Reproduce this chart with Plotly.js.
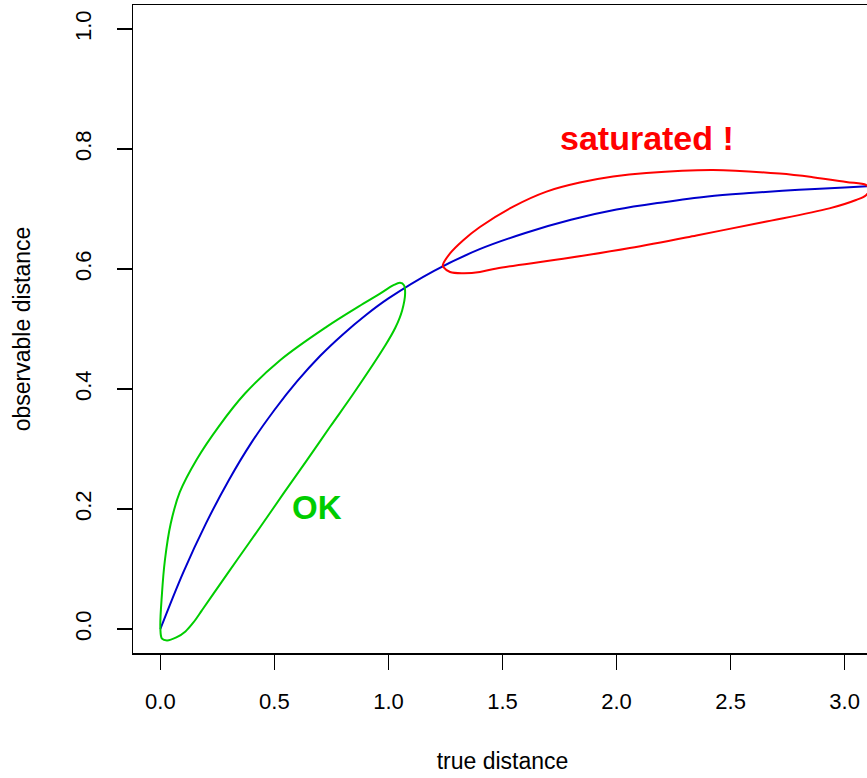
<!DOCTYPE html>
<html>
<head>
<meta charset="utf-8">
<script src="https://cdn.plot.ly/plotly-3.0.1.min.js"></script>
<style>
html, body { margin: 0; padding: 0; background: #ffffff; overflow: hidden; }
#chart { width: 880px; height: 778px; }
</style>
</head>
<body>
<div id="chart"></div>
<script>
// Expected curve (blue): true distance vs observable distance
const blueX = [0, 0.1, 0.2, 0.3, 0.4, 0.5, 0.6, 0.7, 0.8, 0.9, 1.0, 1.2, 1.4, 1.6, 1.8, 2.0, 2.2, 2.4, 2.6, 2.8, 3.0, 3.1];
const blueY = [0, 0.094, 0.176, 0.248, 0.311, 0.365, 0.413, 0.455, 0.491, 0.523, 0.551, 0.597, 0.633, 0.660, 0.682, 0.699, 0.711, 0.721, 0.727, 0.732, 0.736, 0.738];

// Green loop ("OK" region)
const greenX = [0.000, 0.007, 0.020, 0.045, 0.085, 0.160, 0.255, 0.370, 0.525, 0.730, 0.880, 0.963, 1.022, 1.051, 1.068, 1.073, 1.060, 1.030, 0.985, 0.846, 0.744, 0.642, 0.540, 0.438, 0.336, 0.233, 0.182, 0.145, 0.110, 0.070, 0.029, 0.007, 0.000];
const greenY = [0.001, 0.059, 0.115, 0.175, 0.228, 0.283, 0.337, 0.392, 0.448, 0.504, 0.540, 0.559, 0.573, 0.577, 0.573, 0.559, 0.531, 0.502, 0.472, 0.392, 0.337, 0.281, 0.226, 0.170, 0.115, 0.059, 0.031, 0.011, -0.004, -0.014, -0.019, -0.016, 0.001];

// Red loop ("saturated !" region)
const redX = [1.238, 1.270, 1.328, 1.401, 1.547, 1.693, 1.839, 1.985, 2.131, 2.423, 2.715, 2.860, 3.007, 3.094, 3.110, 3.094, 3.050, 2.933, 2.641, 2.350, 2.058, 1.766, 1.474, 1.401, 1.328, 1.270, 1.241, 1.238];
const redY = [0.606, 0.626, 0.648, 0.670, 0.704, 0.729, 0.744, 0.754, 0.760, 0.765, 0.759, 0.753, 0.745, 0.740, 0.733, 0.723, 0.715, 0.701, 0.678, 0.656, 0.635, 0.617, 0.601, 0.595, 0.593, 0.595, 0.603, 0.606];

const xTicks = [0, 0.5, 1.0, 1.5, 2.0, 2.5, 3.0];
const yTicks = [0, 0.2, 0.4, 0.6, 0.8, 1.0];

const labelOK = {text: 'OK', x: 0.687, y: 0.203};
const labelSat = {text: 'saturated !', x: 2.132, y: 0.818};

const FONT = 'Liberation Sans, Arial, Helvetica, sans-serif';

const traces = [
  {x: blueX, y: blueY, type: 'scatter', mode: 'lines',
   line: {color: '#0000CD', width: 2, shape: 'spline', smoothing: 1}, hoverinfo: 'skip'},
  {x: greenX, y: greenY, type: 'scatter', mode: 'lines',
   line: {color: '#00CD00', width: 2, shape: 'spline', smoothing: 1}, hoverinfo: 'skip'},
  {x: redX, y: redY, type: 'scatter', mode: 'lines',
   line: {color: '#FF0000', width: 2, shape: 'spline', smoothing: 1}, hoverinfo: 'skip'}
];

const axisCommon = {
  showgrid: false, zeroline: false,
  showline: true, mirror: true, linecolor: '#000000', linewidth: 1.5,
  ticks: 'outside', ticklen: 15, tickwidth: 1.5, tickcolor: '#000000',
  tickfont: {family: FONT, size: 22, color: '#000000'},
  tickformat: '.1f'
};

const layout = {
  width: 880, height: 778,
  margin: {l: 133, r: 8, t: 5, b: 125, pad: 0},
  paper_bgcolor: '#ffffff', plot_bgcolor: '#ffffff',
  showlegend: false,
  font: {family: FONT, color: '#000000'},
  xaxis: Object.assign({}, axisCommon, {
    range: [-0.12, 3.12], tickmode: 'array', tickvals: xTicks,
    ticklabelstandoff: 13,
    title: {text: 'true distance', font: {family: FONT, size: 23, color: '#000000'}, standoff: 40}
  }),
  yaxis: Object.assign({}, axisCommon, {
    range: [-0.04, 1.04], tickmode: 'array', tickvals: yTicks,
    tickangle: -90, ticklabelstandoff: 17,
    title: {text: 'observable distance', font: {family: FONT, size: 23, color: '#000000'}, standoff: 33}
  }),
  annotations: [
    {x: labelOK.x, y: labelOK.y, xref: 'x', yref: 'y', text: '<b>' + labelOK.text + '</b>', showarrow: false,
     font: {family: FONT, size: 33, color: '#00CD00'}, xanchor: 'center', yanchor: 'middle'},
    {x: labelSat.x, y: labelSat.y, xref: 'x', yref: 'y', text: '<b>' + labelSat.text + '</b>', showarrow: false,
     font: {family: FONT, size: 34, color: '#FF0000'}, xanchor: 'center', yanchor: 'middle'}
  ]
};

Plotly.newPlot('chart', traces, layout, {staticPlot: true, displayModeBar: false});
</script>
</body>
</html>
